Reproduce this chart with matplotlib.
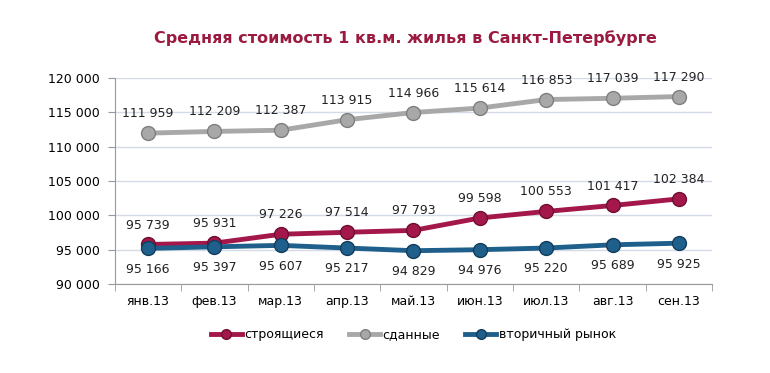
import matplotlib.pyplot as plt
from matplotlib.ticker import FuncFormatter, FixedLocator

months = ['янв.13', 'фев.13', 'мар.13', 'апр.13', 'май.13', 'июн.13', 'июл.13', 'авг.13', 'сен.13']
building = [95739, 95931, 97226, 97514, 97793, 99598, 100553, 101417, 102384]
finished = [111959, 112209, 112387, 113915, 114966, 115614, 116853, 117039, 117290]
secondary = [95166, 95397, 95607, 95217, 94829, 94976, 95220, 95689, 95925]

def fmt(v):
    return '{:,}'.format(int(v)).replace(',', ' ')

fig = plt.figure(figsize=(7.7, 3.73), dpi=100)
ax = fig.add_axes([0.149, 0.239, 0.776, 0.552])

x = list(range(len(months)))
series = [
    (building, 'строящиеся', '#a3174a', '#6e0f31', 14),
    (finished, 'сданные', '#a8a8a8', '#7f7f7f', 14),
    (secondary, 'вторичный рынок', '#1f5f8b', '#123d5c', -15),
]
for vals, name, col, edge, off in series:
    ax.plot(x, vals, color=col, lw=3.5, marker='o', ms=10, mfc=col, mec=edge,
            mew=1, label=name, zorder=3)
    for xi, v in zip(x, vals):
        ax.annotate(fmt(v), (xi, v), xytext=(0, off), textcoords='offset points',
                    ha='center', va='center', fontsize=9, color='#222222')

ax.set_xlim(-0.5, 8.5)
ax.set_ylim(90000, 120000)
ax.set_yticks(range(90000, 120001, 5000))
ax.yaxis.set_major_formatter(FuncFormatter(lambda v, p: fmt(v)))
ax.set_xticks(x)
ax.set_xticklabels(months)
ax.xaxis.set_minor_locator(FixedLocator([i - 0.5 for i in range(10)]))
ax.tick_params(axis='x', which='major', length=0, pad=8, labelsize=9)
ax.tick_params(axis='x', which='minor', length=5, color='#999999')
ax.tick_params(axis='y', length=5, color='#999999', labelsize=9, pad=6)
ax.grid(axis='y', color='#d5dbe6', lw=1)
ax.set_axisbelow(True)
for s in ['top', 'right']:
    ax.spines[s].set_visible(False)
for s in ['left', 'bottom']:
    ax.spines[s].set_color('#999999')

fig.text(0.527, 0.898, 'Средняя стоимость 1 кв.м. жилья в Санкт-Петербурге',
         ha='center', va='center', fontsize=11.5, fontweight='bold', color='#9b1b40')

ax.legend(loc='upper center', bbox_to_anchor=(0.5, -0.16), ncol=3, frameon=False,
          fontsize=9, handlelength=2.5, handletextpad=0.2, columnspacing=2.0,
          markerscale=0.7)

fig.savefig('out.png', dpi=100)
